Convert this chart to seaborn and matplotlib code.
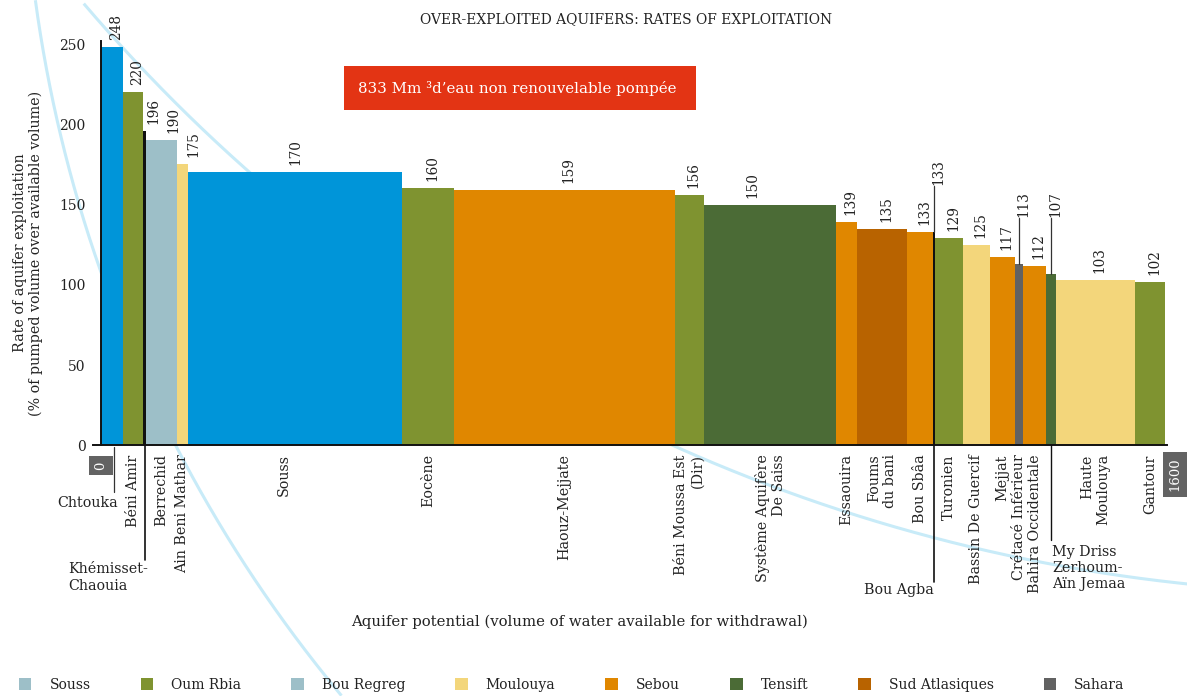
import numpy as np
import pandas as pd
import matplotlib
matplotlib.use('Agg')
import matplotlib.pyplot as plt
from matplotlib.patches import Patch, Rectangle
import seaborn as sns

# data
aquifers = ['Chtouka', 'Béni Amir', 'Khémisset-\nChaouia', 'Berrechid', 'Ain Beni Mathar',
            'Souss', 'Eocène', 'Haouz-Mejjate', 'Béni Moussa Est\n(Dir)',
            'Système Aquifère\nDe Saiss', 'Essaouira', 'Foums\ndu bani', 'Bou Sbâa', 'Bou Agba',
            'Turonien', 'Bassin De Guercif', 'Mejjat', 'Crétacé Inférieur', 'Bahira Occidentale',
            'My Driss\nZerhoum-\nAïn Jemaa', 'Haute\nMoulouya', 'Gantour']
rates = [248, 220, 196, 190, 175, 170, 160, 159, 156, 150, 139, 135, 133, 133,
         129, 125, 117, 113, 112, 107, 103, 102]
potential = [34, 30, 4, 46, 17, 321, 78, 331, 45, 197, 32, 75, 39, 3,
             42, 40, 38, 12, 35, 14, 119, 45]
basins = ['Souss', 'Oum Rbia', 'trait', 'Bou Regreg', 'Moulouya', 'Souss', 'Oum Rbia', 'Sebou',
          'Oum Rbia', 'Tensift', 'Sebou', 'Sud Atlasiques', 'Sebou', 'trait', 'Oum Rbia',
          'Moulouya', 'Sebou', 'Sahara', 'Sebou', 'Tensift', 'Moulouya', 'Oum Rbia']
legend_names = ['Souss', 'Oum Rbia', 'Bou Regreg', 'Moulouya', 'Sebou', 'Tensift',
                'Sud Atlasiques', 'Sahara']
yticks = [0, 50, 100, 150, 200, 250]

palette = {'Souss': '#0095d9', 'Oum Rbia': '#7f9330', 'Bou Regreg': '#9dbfc8',
           'Moulouya': '#f3d67b', 'Sebou': '#e08700', 'Tensift': '#4b6b36',
           'Sud Atlasiques': '#b86300', 'Sahara': '#626262', 'trait': '#111111'}
legend_colors = dict(palette, Souss='#9dbfc8')

edges = np.concatenate([[0], np.cumsum(potential)])
centers = edges[:-1] + np.array(potential) / 2
df = pd.DataFrame({'aquifer': aquifers, 'center': centers, 'rate': rates,
                   'basin': basins, 'width': potential})

sns.set_style('white')
plt.rcParams['font.family'] = ['DejaVu Serif']
plt.rcParams['text.color'] = '#222222'
plt.rcParams['ytick.color'] = '#222222'
fs = 10.3

fig = plt.figure(figsize=(11.87, 6.96), dpi=100)

# background decorative arcs (figure pixel coordinates)
bg = fig.add_axes([0, 0, 1, 1])
bg.set_xlim(0, 1187)
bg.set_ylim(696, 0)
bg.axis('off')


def fitted_arc(points, n=400):
    # least-squares circle through the traced points, drawn from first to last
    P = np.array(points, float)
    x, y = P[:, 0], P[:, 1]
    A = np.column_stack([x, y, np.ones_like(x)])
    D, E, F = np.linalg.lstsq(A, -(x**2 + y**2), rcond=None)[0]
    cx, cy = -D / 2, -E / 2
    r = np.sqrt(cx**2 + cy**2 - F)
    a1 = np.arctan2(y[0] - cy, x[0] - cx)
    am = np.arctan2(y[len(y) // 2] - cy, x[len(x) // 2] - cx)
    a3 = np.arctan2(y[-1] - cy, x[-1] - cx)
    am = a1 + (am - a1) % (2 * np.pi)
    a3 = a1 + (a3 - a1) % (2 * np.pi)
    if am > a3:
        a3 -= 2 * np.pi
    t = np.linspace(a1, a3, n)
    return cx + r * np.cos(t), cy + r * np.sin(t)


curve_a = [(37, 0), (47, 83), (93, 250), (177, 445), (283, 620), (341, 696)]
curve_b = [(88, 0), (147, 67), (200, 133), (233, 173),
           (691, 453), (800, 487), (933, 532), (1053, 567), (1187, 590)]
for pts in (curve_a, curve_b):
    xs, ys = fitted_arc(pts)
    bg.plot(xs, ys, color='#c8ebf8', lw=2.2, solid_capstyle='butt')

bg.add_patch(Rectangle((344, 66), 352, 44, color='#e33414', lw=0))
bg.text(358, 88, '833 Mm \u00b3d\u2019eau non renouvelable pomp\u00e9e', color='white',
        fontsize=10.8, va='center', ha='left')

# main axes: 0 at x=100.7px, 1600 at 1167px ; 0 at y=445.3px, 252 at 41px
ax = fig.add_axes([92.7 / 1187, (696 - 445.3) / 696, 1074.3 / 1187, 404.5 / 696])
ax.patch.set_alpha(0)

sns.histplot(data=df, x='center', weights='rate', bins=edges.tolist(), hue='basin',
             palette=palette, multiple='layer', alpha=1, linewidth=0,
             legend=False, ax=ax)

ax.set_xlim(-12, 1600)
ax.set_ylim(0, 252)
ax.set_xlabel('')
ax.set_ylabel('')
ax.set_xticks([])
ax.set_yticks(yticks)
ax.tick_params(axis='y', length=0, pad=11, labelsize=10)
for s in ['top', 'right']:
    ax.spines[s].set_visible(False)
ax.spines['left'].set_position(('data', 0))
ax.spines['left'].set_bounds(0, 252)
for s in ['left', 'bottom']:
    ax.spines[s].set_linewidth(1.4)
    ax.spines[s].set_color('#111111')

# value and name labels
value_dx = {'Khémisset-\nChaouia': 9, 'Berrechid': 12, 'Ain Beni Mathar': 11,
            'Souss': 0, 'Système Aquifère\nDe Saiss': -18}
name_dx = {'Souss': -11}
horizontal = ['Chtouka', 'Khémisset-\nChaouia', 'Bou Agba', 'My Driss\nZerhoum-\nAïn Jemaa']
leader_top = {'Bou Agba': 161.5, 'Crétacé Inférieur': 141.6,
              'My Driss\nZerhoum-\nAïn Jemaa': 141.6}
px = 0.72  # points per pixel

for _, row in df.iterrows():
    name, xc, h = row['aquifer'], row['center'], row['rate']
    top = h
    gap = 7
    if name in leader_top:
        top = leader_top[name]
        gap = 1
        ax.plot([xc, xc], [h, top], color='#333333', lw=0.9, clip_on=False)
    ax.annotate(str(h), (xc, top), xytext=(value_dx.get(name, 4) * px, gap * px),
                textcoords='offset points', rotation=90, ha='center', va='bottom',
                fontsize=9.8, annotation_clip=False)
    if name not in horizontal:
        ax.annotate(name, (xc, 0), xytext=(name_dx.get(name, 0) * px, -9 * px),
                    textcoords='offset points', rotation=90, ha='center', va='top',
                    multialignment='right', fontsize=fs, annotation_clip=False)

# leader lines below the axis for thin aquifers
c = dict(zip(df['aquifer'], df['center']))
ax.plot([c['Chtouka'] + 2.5] * 2, [-1, -29], color='#333333', lw=0.9, clip_on=False)
ax.text(c['Chtouka'] + 9, -36, 'Chtouka', ha='right', va='center', fontsize=fs)
ax.plot([c['Khémisset-\nChaouia']] * 2, [0, -71.5], color='#111111', lw=1.2, clip_on=False)
ax.text(-49, -73, 'Khémisset-\nChaouia', ha='left', va='top', fontsize=fs,
        multialignment='left')
ax.plot([c['Bou Agba']] * 2, [0, -85], color='#111111', lw=1.2, clip_on=False)
ax.text(c['Bou Agba'], -86, 'Bou Agba', ha='right', va='top', fontsize=fs)
md = 'My Driss\nZerhoum-\nAïn Jemaa'
ax.plot([c[md]] * 2, [0, -59], color='#111111', lw=1.0, clip_on=False)
ax.text(c[md] + 2, -62, md, ha='left', va='top', fontsize=fs, multialignment='left')

# end-of-scale markers
ax.text(0.4, -12.6, '0', rotation=90, ha='center', va='center', color='white', fontsize=9.5,
        bbox=dict(facecolor='#636363', edgecolor='none', pad=4), clip_on=False)
ax.text(1612.5, -18.2, '1600', rotation=90, ha='center', va='center', color='white',
        fontsize=9.5, bbox=dict(facecolor='#636363', edgecolor='none', pad=4), clip_on=False)

fig.text(626 / 1187, 1 - 19 / 696, 'OVER-EXPLOITED AQUIFERS: RATES OF EXPLOITATION',
         ha='center', va='center', fontsize=10)
fig.text(28 / 1187, 1 - 253 / 696,
         'Rate of aquifer exploitation\n(% of pumped volume over available volume)',
         rotation=90, ha='center', va='center', multialignment='center', fontsize=fs)
fig.text(579 / 1187, 1 - 622 / 696,
         'Aquifer potential (volume of water available for withdrawal)',
         ha='center', va='center', fontsize=10.7)

handles = [Patch(facecolor=legend_colors[n], edgecolor='none', label=n) for n in legend_names]
fig.legend(handles=handles, loc='center left', bbox_to_anchor=(19 / 1187, 1 - 685 / 696),
           ncol=8, frameon=False, handlelength=0.9, handleheight=0.9, handletextpad=1.3,
           columnspacing=3.6, fontsize=10, borderaxespad=0, borderpad=0)

fig.savefig('out.png', dpi=100)
